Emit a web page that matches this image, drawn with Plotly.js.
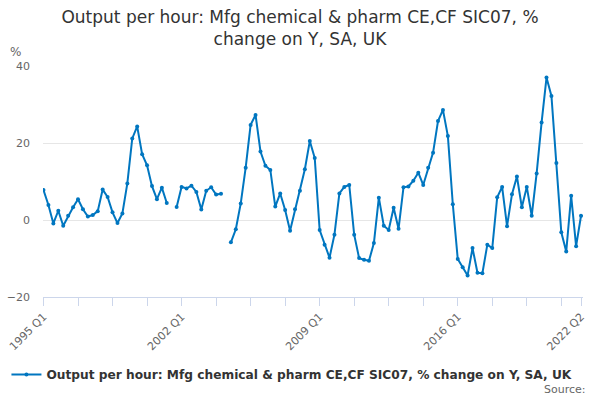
<!DOCTYPE html>
<html>
<head>
<meta charset="utf-8">
<script src="https://cdn.plot.ly/plotly-3.0.1.min.js"></script>
<style>
  html, body { margin: 0; padding: 0; background: #fff; }
  #chart { width: 600px; height: 400px; }
</style>
</head>
<body>
<div id="chart"></div>
<script>
// quarterly, 1995 Q1 .. 2022 Q2 (null = no value)
var start_year = 1995
var values = [
    7.8, 3.9, -0.9, 2.4, -1.5, 1.1, 3.3, 5.4, 2.8, 0.9,
    1.3, 2.3, 7.9, 6.0, 2.0, -0.8, 1.7, 9.5, 21.2, 24.3,
    17.1, 14.2, 8.8, 5.4, 8.4, 4.4, null, 3.4, 8.6, 8.2,
    8.9, 7.3, 2.7, 7.6, 8.5, 6.6, 6.8, null, -5.8, -2.4,
    4.3, 13.6, 24.7, 27.3, 17.8, 14.1, 13.0, 3.5, 6.9, 2.6,
    -2.8, 2.8, 7.6, 13.2, 20.5, 16.1, -2.6, -6.4, -9.8, -3.8,
    6.9, 8.6, 9.1, -3.8, -9.9, -10.3, -10.6, -6.0, 5.8, -1.5,
    -2.6, 3.2, -2.3, 8.5, 8.7, 10.2, 12.3, 9.1, 13.6, 17.5,
    25.7, 28.6, 21.8, 4.1, -10.1, -12.3, -14.4, -7.3, -13.7, -13.8,
    -6.4, -7.3, 5.9, 8.6, -1.6, 6.7, 11.3, 3.3, 8.6, 1.1,
    12.1, 25.3, 37.0, 32.2, 14.8, -3.2, -8.2, 6.3, -6.8, 1.1
]
var labelled_quarters = ["1995 Q1", "2002 Q1", "2009 Q1", "2016 Q1", "2022 Q2"]
var series_name = "Output per hour: Mfg chemical & pharm CE,CF SIC07, % change on Y, SA, UK"

var quarters = [], idx = []
for (i = 0; i < values.length; i++) {
    quarters.push((start_year + Math.floor(i / 4)) + " Q" + (i % 4 + 1))
    idx.push(i)
}

tick_vals = [], tick_text = []
for (i = 0; i < values.length; i += 7) {
    tick_vals.push(i)
}
if (tick_vals[tick_vals.length - 1] != values.length - 1) tick_vals.push(values.length - 1)
for (i in tick_vals) {
    q = quarters[tick_vals[i]]
    tick_text.push(labelled_quarters.indexOf(q) > -1 ? q : "")
}

var trace1 = {
    x: idx,
    y: values,
    customdata: quarters,
    name: "<b>" + series_name.replace("&", "&amp;") + "</b>",
    type: 'scatter',
    mode: 'lines+markers',
    connectgaps: false,
    line: {color: '#0076c0', width: 2},
    marker: {color: '#0076c0', size: 4},
    hovertemplate: "%{customdata}<br>%{y}<extra></extra>"
}

var layout = {
    width: 600,
    height: 400,
    margin: {t: 66, l: 43, r: 17, b: 102, pad: 0},
    paper_bgcolor: '#fff',
    plot_bgcolor: '#fff',
    font: {family: '"DejaVu Sans", sans-serif', color: '#666', size: 11},
    title: {
        text: "Output per hour: Mfg chemical &amp; pharm CE,CF SIC07, %<br>change on Y, SA, UK",
        font: {size: 17, color: '#333'},
        x: 0.5,
        xanchor: 'center',
        y: 0.942,
        yanchor: 'top'
    },
    xaxis: {
        range: [-0.1, 109.4],
        tickmode: 'array',
        tickvals: tick_vals,
        ticktext: tick_text,
        tickangle: -45,
        ticks: 'outside',
        ticklen: 8,
        tickcolor: '#ccd6eb',
        showgrid: false,
        zeroline: false,
        showline: true,
        linecolor: '#ccd6eb',
        linewidth: 1,
        fixedrange: true,
        tickfont: {size: 11, color: '#666'}
    },
    yaxis: {
        range: [-20, 40],
        tickvals: [-20, 0, 20, 40],
        showgrid: true,
        gridcolor: '#e6e6e6',
        zeroline: false,
        showline: false,
        ticks: '',
        ticklabelstandoff: 12,
        fixedrange: true,
        tickfont: {size: 11, color: '#666'}
    },
    showlegend: true,
    legend: {
        orientation: 'h',
        x: 0.461,
        xanchor: 'center',
        y: -0.33,
        yanchor: 'middle',
        font: {size: 12.2, color: '#333'}
    },
    annotations: [
        {text: "%", xref: 'paper', yref: 'paper', x: -0.065, y: 1.06, xanchor: 'left', yanchor: 'middle',
         showarrow: false, font: {size: 12, color: '#666'}},
        {text: "Source:", xref: 'paper', yref: 'paper', x: 1.01, y: -0.40, xanchor: 'right', yanchor: 'middle',
         showarrow: false, font: {size: 11, color: '#666'}}
    ]
}

Plotly.newPlot('chart', [trace1], layout, {displayModeBar: false, staticPlot: true})
</script>
</body>
</html>
